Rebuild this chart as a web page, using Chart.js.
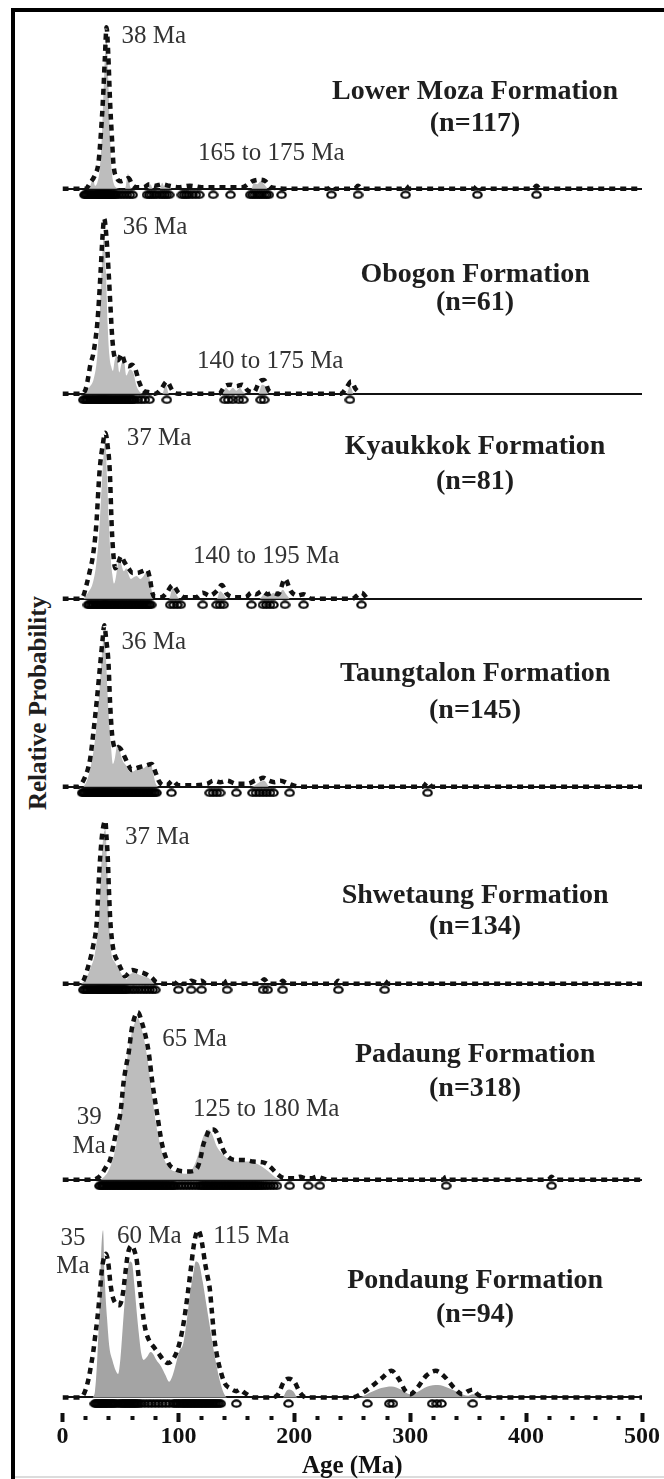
<!DOCTYPE html>
<html lang="en">
<head>
<meta charset="UTF-8">
<title>Detrital zircon age spectra</title>
<script src="https://cdn.jsdelivr.net/npm/chart.js@4.4.0/dist/chart.umd.min.js"></script>
<style>
  html, body { margin: 0; padding: 0; background: #fff; overflow: hidden; }
  #sheet { position: relative; width: 664px; height: 1479px; overflow: hidden; }
  .frame { position: absolute; left: 11px; top: 8px; right: -10px; bottom: -10px;
           border-left: 4px solid #000; border-top: 4px solid #000; }
  .foot { position: absolute; left: 15px; right: 0; top: 1476px; height: 2px; background: #dcdcdc; }
  canvas.panel { position: absolute; left: 0; }
  .ylabel { position: absolute; left: 38px; top: 703px; transform: translate(-50%, -50%) rotate(-90deg);
            font: bold 25px "Liberation Serif", "Times New Roman", serif; color: #1e1e1e; white-space: nowrap; }
</style>
</head>
<body>
<div id="sheet">
  <div class="frame"></div>
  <div class="foot"></div>
  <div class="ylabel">Relative Probability</div>
</div>

<script>
// formations, top to bottom
const formations = ['Lower Moza Formation', 'Obogon Formation', 'Kyaukkok Formation',
  'Taungtalon Formation', 'Shwetaung Formation', 'Padaung Formation', 'Pondaung Formation'];
const sampleCounts = [117, 61, 81, 145, 134, 318, 94];

// peak annotations for each formation
const peakNotes = [
  ['38 Ma', '165 to 175 Ma'],
  ['36 Ma', '140 to 175 Ma'],
  ['37 Ma', '140 to 195 Ma'],
  ['36 Ma'],
  ['37 Ma'],
  ['65 Ma', '125 to 180 Ma', '39', 'Ma'],
  ['35', 'Ma', '60 Ma', '115 Ma']
];

const ageTicks = [0, 100, 200, 300, 400, 500];

// [age Ma, relative probability] - probability density (grey) and KDE (dashed)
const mozaPdp = [[20,0],[24,2],[26.5,7],[28,2],[30,4],[32,12],[34,35],[36,75],[38,100],[39.5,72],[41,35],[42.5,12],[44,4],[46,1],[50,0],[54,0],[56.5,10],[58.5,1],[61,0],[74,0],[76,3],[78,0],[84,0],[86,4],[88,1],[91,3],[94,0],[163,0],[165,4],[168,3],[171,5],[174,3],[177,0]];
const mozaKde = [[0,0],[20,0],[24,4],[28,9],[31,17],[33,35],[35,60],[36.5,85],[38,106],[39.5,88],[41,58],[42.7,33],[44,16],[47,7],[50,5],[54,6],[57,7],[60,3],[64,1],[70,1],[75,3],[80,2],[86,3],[92,2],[100,1],[110,2],[120,1],[140,1],[155,1],[164,5],[170,6],[175,5],[180,1],[200,0],[229,0],[232,2],[235,0],[252,0],[255,2],[258,0],[293,0],[296,2],[299,0],[355,0],[358,2],[361,0],[406,0],[409,2],[412,0],[500,0]];
const mozaGrains = [19,20,21,22,23,24,25,26,27,28,29,29.5,30,30.5,31,31.5,32,32.5,33,33.5,34,34.5,35,35.5,36,36.5,37,37.5,38,38.5,39,39.5,40,40.5,41,42,43,44,45,46,48,50.5,53,55.5,58,60.5,73,75,77,79,81,84,86,88,90,92,103,105,107,109,112,115,118,130,145,162,164,166,168,170,172,174,176,178,189,232,255,296,358,409];

const obogonPdp = [[19,0],[23,4],[27,10],[30,25],[32,50],[34,85],[36,105],[37.5,80],[39,45],[40.5,25],[42,18],[43.5,15],[45,22],[47,25],[49,14],[51,20],[53,22],[55,12],[58,16],[61,14],[64,5],[67,1],[70,0],[86,0],[89,6],[92,0],[138,0],[141,4],[144,2],[147,4],[150,2],[153,4],[156,1],[159,0],[169,0],[172,6],[175,5],[178,0],[245,0],[248,5],[251,0]];
const obogonKde = [[0,0],[16,0],[20,3],[22,10],[24,19],[26.5,26],[28.5,36],[30,46],[31.5,62],[33,82],[34.5,103],[36,115],[38,102],[39.8,80],[41.2,60],[43,36],[45,24],[48,22],[51,26],[54,20],[57,18],[60,19],[62.5,17],[66,8],[70,2],[75,1],[80,0],[85,3],[90,8],[95,2],[100,0],[135,0],[140,5],[145,6],[150,5],[155,6],[160,2],[165,1],[170,8],[174,9],[178,2],[185,0],[240,0],[245,4],[249,8],[253,3],[257,0]];
const obogonGrains = [18,19.3,20.4,21.7,22.8,24.1,25.2,26.5,27.6,28.8,30,31,32.1,33,34.1,35,36,37.1,38,39.1,40.3,41.4,42.7,43.8,45.1,46.2,47.5,48.6,49.9,51,52.3,53.4,54.7,55.8,57.1,58.2,59.5,60.6,62,65,68,71,75,90,140,143,147,152,156,171,174,248];

const kyaukkokPdp = [[18,0],[22,4],[26,10],[29,22],[31.5,42],[33.5,70],[35.5,95],[37,104],[38.5,80],[40,50],[41.5,28],[43,16],[44.5,10],[46,14],[48,24],[49.5,28],[51,22],[53,18],[55,20],[57,16],[59,13],[61,14],[64,15],[67,13],[70,15],[73,18],[75,14],[77,5],[79,0],[92,0],[95,7],[98,3],[101,0],[133,0],[136,5],[139,3],[142,0],[170,0],[174,3],[178,2],[182,4],[186,2],[190,6],[193,3],[196,0]];
const kyaukkokKde = [[0,0],[15,0],[18,2],[21,10],[23.5,18],[26,27],[29,47],[32,84],[34.5,100],[37,109],[39,100],[40.8,84],[42.5,47],[44,28],[45.5,20],[47.5,22],[50.5,28],[53.5,24],[57,20],[60.5,17],[64.5,17],[68.5,18],[73,19],[75.5,13],[77.5,4],[80,1],[85,1],[90,4],[95,9],[100,4],[105,1],[115,1],[121,4],[127,2],[133,5],[137.5,9],[142,3],[150,1],[158,1],[163,4],[167,3],[172,5],[177,3],[181,4],[186,3],[192,13],[197,5],[203,2],[208,3],[215,0],[250,0],[254,2],[258,4],[263,0]];
const kyaukkokGrains = [22,23.1,24.5,25.6,26.7,28.1,29.2,30.3,31.5,32.8,34,35,36.1,37,38.1,39,40.2,41.5,42.6,43.9,45,46.3,47.4,48.7,49.8,51.1,52.2,53.5,54.6,55.9,57,58.3,59.4,60.7,61.8,63.1,64.2,65.5,66.6,67.9,69,70.3,71.4,72.7,73.8,75,76.5,93,96,99,102,121,133,136,139,163,173,176,179,182,192,208,258];

const taungtalonPdp = [[18,0],[21,4],[24,12],[27,25],[30,45],[32.5,70],[34.5,92],[36,100],[37.5,85],[39,60],[40.5,40],[42,25],[43.5,15],[45,18],[47,27],[48.5,28],[50,22],[52,17],[55,14],[58,10],[61,10],[65,12],[69,12],[73,14],[76,16],[78,10],[80,3],[83,0],[163,0],[170,3],[174,4],[178,0]];
const taungtalonKde = [[0,0],[13,0],[15.5,1],[19.8,7],[22,12],[24,19],[26.7,36],[29.5,56],[32.6,81],[34.5,96],[36,106],[37.8,96],[39.7,81],[41,56],[42.6,36],[44,28],[45.7,25],[48,26],[50,25],[54,19],[57,14],[59.6,11],[63,12],[67,13],[72,14],[77,15],[80,10],[83,4],[87,1],[90,1],[95,4],[100,1],[110,1],[125,2],[130,4],[136,3],[142,4],[150,2],[160,2],[166,4],[170,5],[173,6],[178,4],[183,3],[188,4],[195,2],[205,0],[311,0],[315,3],[319,0],[500,0]];
const taungtalonGrains = [17,18.1,19.3,20.2,21.4,22.5,23.4,24.6,25.5,26.7,27.6,28.5,29.4,30.2,31.1,31.9,32.8,33.6,34.5,35.3,36.2,37,37.9,38.8,39.7,40.5,41.6,42.5,43.7,44.6,45.8,46.7,47.9,49,50.2,51.3,52.5,53.6,54.8,56,57.1,58.3,59.4,60.6,61.8,63,64.1,65.3,66.5,67.6,68.8,70,71.1,72.3,73.5,74.6,75.8,77,78.2,79.5,81,94,127,130,133,136,150,164,167,170,173,176,179,182,196,315];

const shwetaungPdp = [[16,0],[20,3],[24,10],[28,20],[31,40],[33,70],[35,95],[37,101],[38.5,80],[40,45],[41.5,25],[43,17],[44.5,15],[46,13],[49,9],[52,5],[55,3],[58,6],[62,7],[66,6],[70,5],[74,4],[78,1],[80,0]];
const shwetaungKde = [[0,0],[15,0],[18,2],[22,11],[26.5,25],[29.7,42],[31,63],[32.6,84],[34.5,100],[37,107],[38,96],[39,84],[40,63],[41.2,42],[42.5,30],[44,22],[48,14],[51,9],[54,5],[57,7],[60,9],[65,8],[70,7],[77,4],[81,1],[90,0],[97,0],[100,2],[103,0],[108,0],[111,2],[116,1],[120,2],[124,0],[139,0],[142,2],[145,0],[170,0],[174,3],[178,0],[187,0],[190,2],[193,0],[235,0],[238,2],[241,0],[275,0],[278,2],[281,0],[500,0]];
const shwetaungGrains = [18,19.2,20.3,21.5,22.6,23.8,24.9,26.1,27.2,28.3,29.4,30.4,31.3,32.2,33.1,34,34.9,35.8,36.7,37.6,38.5,39.4,40.4,41.5,42.6,43.8,44.9,46.1,47.2,48.4,49.5,50.7,51.8,53,54.1,55.3,57.4,60.1,62.3,65,67.6,70.2,72.5,75.1,77.7,80,100,111,120,142,173,177,190,238,278];

const padaungPdp = [[33,0],[36,2],[39,5],[42,10],[45,18],[48,30],[50.5,44],[53,60],[55.5,78],[58,90],[61,100],[65,106],[68,100],[71,90],[74,76],[77,58],[80,40],[84,24],[88,13],[93,7],[100,5],[106,4],[111,6],[116,14],[120,25],[123,31],[126,33],[129,30],[133,22],[138,17],[145,13],[153,12],[161,12],[169,10],[175,7],[180,4],[185,1],[190,0]];
const padaungKde = [[0,0],[26,0],[30,1],[34,4],[38,9],[41,13],[44,23],[47,34],[50,44],[52.7,64],[55,75],[57,83],[60,100],[65,110],[69,102],[71.5,95],[74.5,83],[77.5,64],[81.5,44],[86,23],[91.7,10.5],[97,7],[104,5.6],[110,5.5],[116,7.4],[119,14],[121.5,23],[124,28],[127,33],[130,33],[133,31],[136,25],[139,19],[143,15],[149,13],[157,13],[164.5,12],[175,11],[180,8],[185,4],[192,1],[200,1],[205,2],[210,1],[215,1],[219,2],[224,1],[230,0],[328,0],[331,2],[334,0],[419,0],[422,2],[425,0],[500,0]];
const padaungGrains = [32,33.1,34.3,35.2,36.4,37.5,38.6,39.6,40.8,41.9,43,44.1,45.2,46.2,47.3,48.4,49.5,50.5,51.6,52.7,53.8,54.8,55.9,57,58,59.1,60.2,61.2,62.3,63.4,64.4,65.5,66.6,67.6,68.7,69.8,70.9,71.9,73,74.1,75.2,76.3,77.4,78.5,79.6,80.7,81.8,82.9,84,85.1,86.2,87.4,88.5,89.7,90.8,92,93.2,94.5,95.7,97,99.5,102,104.5,107,109.5,112,114.5,117,119,120.3,121.5,122.8,124,125.2,126.5,127.7,129,130.2,131.5,132.7,134,135.2,136.5,137.7,139,140.3,141.5,142.8,144,145.3,146.5,147.8,149,150.3,151.6,152.9,154.2,155.5,156.8,158.1,159.4,160.7,162,163.3,164.6,165.9,167.2,168.5,170,171.5,173,175,177,179.5,182,185,196,212,222,331,422];

const pondaungPdp = [[26,0],[28,4],[30,25],[32,60],[33.5,95],[35,107],[36.5,75],[38.5,50],[40.5,32],[43,24],[46,17],[48,15],[50,25],[52,45],[54,65],[56,80],[58,87],[60,86],[62,72],[64,55],[66,40],[68,28],[70,24],[73,26],[76,29],[78,28],[81,24],[85,20],[89,14],[92,10],[95,14],[98,22],[101,30],[104,34],[107,48],[110,66],[113,80],[115,87],[118,85],[121,74],[124,60],[127,46],[130,32],[133,20],[136,10],[139,3],[142,0],[190,0],[193,4],[196,5],[199,4],[203,0],[255,0],[265,3],[275,6],[284,7],[292,5],[300,2],[305,3],[315,7],[324,8],[333,6],[342,3],[350,1],[354,2],[360,0]];
const pondaungKde = [[0,0],[15,0],[17.5,1],[20,5],[22.5,12],[24.5,20],[26.5,29],[28,38],[30,50],[32,65],[34,82],[36,90],[37.5,92],[39.5,86],[41.5,72],[43.5,64],[46,60],[49,59],[52,66],[54,78],[56,90],[58,96],[60,97],[62,94],[64,88],[66,75],[68,62],[70,50],[72,42],[75,36],[79,32],[83,28],[87,24],[91,22],[95,24],[99,30],[102,38],[105,50],[108,66],[111,84],[113,96],[115,104],[117,107],[119,104],[121,96],[123,86],[125,78],[127,70],[129,54],[131,38],[133,28],[136,18],[140,9],[145,5.6],[150,4],[153,5],[157,3],[165,0],[180,0],[186,2],[191,10],[195,12],[200,10],[205,3],[210,0],[250,0],[257,2],[265,6],[275,12],[284,17],[290,12],[296,4],[300,2],[306,6],[314,14],[322,17],[330,13],[338,6],[345,2],[350,4],[354,5],[358,2],[365,0],[500,0]];
const pondaungGrains = [28,28.9,29.8,30.7,31.6,32.5,33.4,34.3,35.2,36.1,37,38,39,40.1,41.2,42.3,43.5,44.6,46,48,50,51.2,52.3,53.4,54.5,55.6,56.7,57.8,58.9,60,61.1,62.2,63.3,64.5,66,68,71,74,77,80,83,86,89,92,95.5,97,98.5,100,101.5,103,104.2,105.4,106.6,107.8,109,110.2,111.4,112.6,113.8,115,116.2,117.4,118.6,119.8,121,122.2,123.4,124.6,125.8,127,128.3,129.6,130.9,132.2,133.5,135,136.5,150,195,263,282,285,319,323,327,354];

const pdpSeries = [mozaPdp, obogonPdp, kyaukkokPdp, taungtalonPdp, shwetaungPdp, padaungPdp, pondaungPdp];
const kdeSeries = [mozaKde, obogonKde, kyaukkokKde, taungtalonKde, shwetaungKde, padaungKde, pondaungKde];
const grainSeries = [mozaGrains, obogonGrains, kyaukkokGrains, taungtalonGrains, shwetaungGrains, padaungGrains, pondaungGrains];

// ---- layout ----
const panelTops = [1, 206, 411, 599, 796, 992, 1205];
const panelHeight = 208;      // y from -10 to 120 -> 1.6 px per unit
const axisBlock = 71;         // room for age ticks + title under the last panel
const serif = '"Liberation Serif", "Times New Roman", serif';

// [age, level] of formation name and (n=..) line
const titlePlacement = [[356, 64, 43], [356, 78, 60], [356, 100, 77], [356, 74, 50], [356, 58, 37.5], [356, 82, 60], [356, 75, 53]];
// [age, level, align] for each peak note
const notePlacement = [
  [[51, 100, 'left'], [117, 23, 'left']],
  [[52, 109, 'left'], [116, 21, 'left']],
  [[55.5, 105, 'left'], [112.5, 28, 'left']],
  [[51, 95, 'left']],
  [[54, 96, 'left']],
  [[86, 92, 'left'], [112.5, 46, 'left'], [23, 41, 'center'], [23, 22, 'center']],
  [[9, 102, 'center'], [9, 84, 'center'], [47, 103, 'left'], [130, 103, 'left']]
];

// open ellipse used for single-grain ages (no fill, so dense runs merge into a solid bar)
const grainMark = document.createElement('canvas');
grainMark.width = 11; grainMark.height = 9;
(function () {
  const g = grainMark.getContext('2d');
  g.strokeStyle = '#000'; g.lineWidth = 2.2;
  g.beginPath(); g.ellipse(5.5, 4.5, 4.2, 3.1, 0, 0, Math.PI * 2); g.stroke();
})();

const panelText = {
  id: 'panelText',
  afterDatasetsDraw(chart, args, opts) {
    const i = opts.panel;
    const {ctx} = chart;
    const x = chart.scales.x, y = chart.scales.y;
    ctx.save();
    ctx.textBaseline = 'middle';
    ctx.textAlign = 'center';
    ctx.fillStyle = '#1e1e1e';
    ctx.font = 'bold 28px ' + serif;
    const [tAge, tLvl, nLvl] = titlePlacement[i];
    ctx.fillText(formations[i], x.getPixelForValue(tAge), y.getPixelForValue(tLvl));
    ctx.fillText('(n=' + sampleCounts[i] + ')', x.getPixelForValue(tAge), y.getPixelForValue(nLvl));
    ctx.font = '25px ' + serif;
    ctx.fillStyle = '#333';
    peakNotes[i].forEach((txt, k) => {
      const [a, l, align] = notePlacement[i][k];
      ctx.textAlign = align;
      ctx.fillText(txt, x.getPixelForValue(a), y.getPixelForValue(l));
    });
    ctx.restore();
  }
};

const toPoints = pairs => pairs.map(([a, v]) => ({x: a, y: v}));

function makePanel(i) {
  const last = i === formations.length - 1;
  const canvas = document.createElement('canvas');
  canvas.className = 'panel';
  canvas.width = 664;
  canvas.height = panelHeight + (last ? axisBlock : 0);
  canvas.style.top = panelTops[i] + 'px';
  document.getElementById('sheet').appendChild(canvas);

  const xScale = {
    type: 'linear', min: 0, max: 500, display: last,
    border: {display: false},
    grid: {
      drawOnChartArea: false, drawTicks: true, tickLength: 9, tickWidth: 4, tickColor: '#111',
      tickBorderDash: c => ageTicks.includes(c.tick.value) ? [] : [0, 3, 4, 40]
    },
    ticks: {
      stepSize: 20, autoSkip: false, maxRotation: 0, padding: 0, color: '#111',
      font: {family: serif, size: 24, weight: 'bold'},
      callback: v => ageTicks.includes(v) ? String(v) : ''
    },
    title: {display: true, text: 'Age (Ma)', color: '#111', padding: {top: 0, bottom: 2},
            font: {family: serif, size: 25, weight: 'bold'}}
  };
  if (last) xScale.afterFit = s => { s.height = axisBlock; };

  new Chart(canvas, {
    type: 'line',
    data: {
      datasets: [
        {data: toPoints(pdpSeries[i]), fill: 'origin', borderWidth: 0, pointRadius: 0,
         backgroundColor: last ? '#a4a4a4' : '#bdbdbd', cubicInterpolationMode: 'monotone', order: 3},
        {data: toPoints(kdeSeries[i]), fill: false, borderColor: '#111', borderWidth: 4.5,
         borderDash: [6, 5], borderCapStyle: 'butt', pointRadius: 0, cubicInterpolationMode: 'monotone', order: 2},
        {type: 'scatter', data: grainSeries[i].map(a => ({x: a, y: -4})), pointStyle: grainMark,
         pointRadius: 4, order: 1}
      ]
    },
    options: {
      responsive: false, animation: false, events: [],
      layout: {padding: {left: 62.5, right: 22, top: 0, bottom: 0}},
      plugins: {legend: {display: false}, tooltip: {enabled: false}, panelText: {panel: i}},
      scales: {
        x: xScale,
        y: {
          min: -10, max: 120, display: true,
          border: {display: false},
          ticks: {display: false},
          grid: {drawTicks: false, color: '#111', lineWidth: 2},
          afterBuildTicks: s => { s.ticks = [{value: 0}]; }
        }
      }
    },
    plugins: [panelText]
  });
}

formations.forEach((_, i) => makePanel(i));
</script>
</body>
</html>
